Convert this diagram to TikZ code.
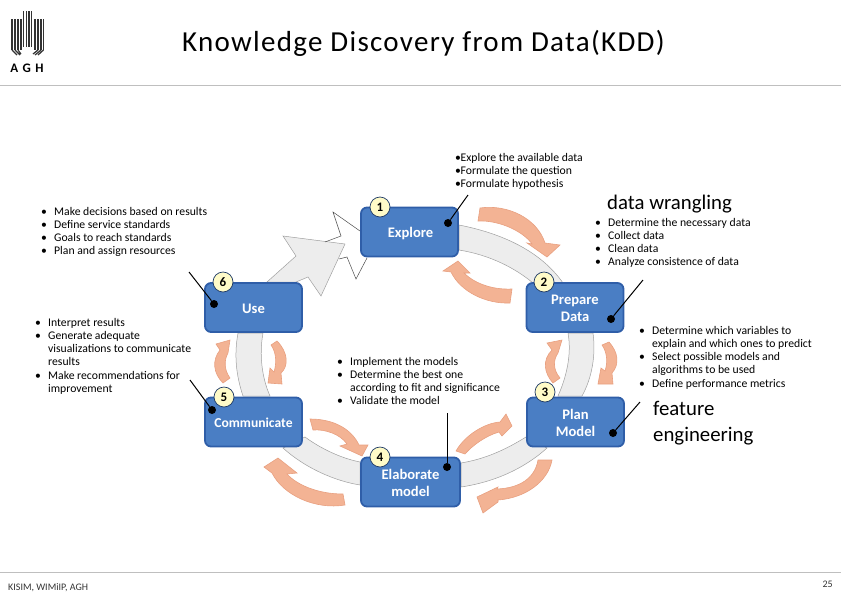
\documentclass[tikz,border=0pt]{standalone}
\usepackage{fontspec}
\setmainfont{Carlito}
\newfontfamily\titlefont[LetterSpace=4.5]{Carlito}
\tikzset{
 box/.style={draw=boxedge,line width=1.8pt,fill=boxfill,rounded corners=6pt,minimum width=97pt,minimum height=49pt,inner sep=0pt},
 boxlabel/.style={text=white,font=\fontsize{14.6}{17.5}\selectfont\bfseries,align=center,inner sep=0pt},
 badge/.style={circle,draw=boxedge!60!black,line width=.7pt,fill=badgefill,minimum size=20pt,inner sep=0pt,font=\fontsize{13}{13}\selectfont\bfseries},
 ring/.style={draw=gray!75,line width=.5pt,fill=ringfill},
 turn/.style={draw=turnedge,line width=.6pt,fill=turnfill},
 dot/.style={circle,fill=black,minimum size=8pt,inner sep=0pt},
 leader/.style={draw=black,line width=1pt},
 note/.style={anchor=north west,align=left,inner sep=0pt,font=\fontsize{11.7}{13.2}\selectfont},
 big/.style={anchor=west,inner sep=0pt,align=left,font=\fontsize{20.8}{26}\selectfont},
 smalltext/.style={inner sep=0pt,font=\fontsize{10}{11}\selectfont,text=black!80},
 rule/.style={gray!50,line width=.8pt},
 logobar/.style={black!80,line width=1.6pt},
}
\definecolor{boxfill}{HTML}{4A7EC4}
\definecolor{boxedge}{HTML}{2F5EA8}
\definecolor{badgefill}{HTML}{FFFBC8}
\definecolor{ringfill}{HTML}{EDEDED}
\definecolor{turnfill}{HTML}{F3B394}
\definecolor{turnedge}{HTML}{E8A080}
\begin{document}
\begin{tikzpicture}[x=1pt,y=-1pt]
\useasboundingbox (0,0) rectangle (841,595);
% header and footer
\node[anchor=west,inner sep=0pt,font=\fontsize{29}{32}\selectfont\titlefont] (title) at (182,43.5) {Knowledge Discovery from Data(KDD)};
\draw[rule] (0,85.5) -- (841,85.5);
\draw[rule] (0,572.5) -- (841,572.5);
\node[smalltext,anchor=west] (foot) at (8,588) {KISIM, WIMiIP, AGH};
\node[smalltext,anchor=east] (page) at (833,584) {25};
% logo
\foreach \x in {12,15,18,21,35,38,41,43.5}{\draw[logobar] (\x,19) -- (\x,50);}
\foreach \x in {23.5,26.5,29,31.5}{\draw[logobar] (\x,11) -- (\x,47);}
\draw[logobar,line width=1.2pt] (12,50) -- (17,55) (15,50) -- (20,55) (18,50) -- (21,54) (43.5,50) -- (38,55) (41,50) -- (35,55) (38,50) -- (33,54);
\node[inner sep=0pt,font=\fontsize{13}{13}\selectfont\bfseries] (agh) at (27,68) {A\kern4.5pt G\kern4.5pt H};
% ring
\path[ring] (459,225) .. controls (500,233) and (540,250) .. (563,283) -- (533,283) .. controls (515,268) and (490,255) .. (459,250) -- cycle;
\path[ring] (568,333) .. controls (572,355) and (566,378) .. (558,396) -- (582,396) .. controls (592,378) and (596,355) .. (593,333) -- cycle;
\path[ring] (526,437) .. controls (505,450) and (485,459) .. (461,463) -- (461,487) .. controls (495,482) and (525,468) .. (547,448) -- cycle;
\path[ring] (360,462) .. controls (340,458) and (320,448) .. (305,437) -- (283,448) .. controls (305,468) and (335,481) .. (360,485) -- cycle;
\path[ring] (243,396) .. controls (236,375) and (234,355) .. (238,333) -- (263,333) .. controls (259,355) and (262,378) .. (270,396) -- cycle;
\path[ring] (267,282) -- (296,256) -- (283,236) -- (345,244) -- (321,296) -- (308,277) -- (296,282) -- cycle;
% burst
\draw[black!70,line width=.5pt] (360,231) -- (333,212) -- (341,236) -- (325,242);
\draw[black!70,line width=.5pt] (367,258) -- (356,279) -- (347,257) -- (339,259);
% turning arrows
\path[turn] (480,208) .. controls (507,204) and (537,218) .. (545,243) -- (560,245) -- (547,257) -- (527,243) -- (532,244) .. controls (524,232) and (500,220) .. (478,221) -- cycle;
\path[turn] (443,271) -- (458,261) -- (470,273) -- (464,273) .. controls (473,282) and (490,290) .. (512,289) -- (510,303) .. controls (485,304) and (460,291) .. (451,272) -- cycle;
\path[turn] (602,345) -- (609,342) .. controls (618,352) and (620,364) .. (612,373) -- (613,384) -- (598,384) -- (601,368) -- (605,371) .. controls (608,362) and (607,352) .. (602,345) -- cycle;
\path[turn] (562,340) -- (547,343) -- (552,350) .. controls (542,360) and (544,373) .. (553,383) -- (560,378) .. controls (553,370) and (553,360) .. (558,353) -- cycle;
\path[turn] (456,451) .. controls (465,435) and (485,423) .. (500,422) -- (506,414) -- (512,426) -- (502,436) -- (499,432) .. controls (485,436) and (472,446) .. (465,454) -- cycle;
\path[turn] (538,460) -- (552,460) .. controls (548,482) and (525,498) .. (498,500) -- (498,502) -- (483,513) -- (477,497) -- (498,487) -- (497,489) .. controls (520,488) and (535,478) .. (538,460) -- cycle;
\path[turn] (310,419) .. controls (335,419) and (352,430) .. (359,445) -- (368,445) -- (362,456) -- (340,446) -- (347,444) .. controls (340,434) and (325,429) .. (313,430) -- cycle;
\path[turn] (264,467) -- (278,458) -- (297,473) -- (287,474) .. controls (297,485) and (318,494) .. (343,494) -- (345,505) .. controls (315,510) and (283,495) .. (272,473) -- cycle;
\path[turn] (230,340) -- (216,344) -- (220,350) .. controls (212,360) and (213,373) .. (223,383) -- (230,378) .. controls (224,370) and (224,360) .. (228,353) -- cycle;
\path[turn] (271,345) -- (277,341) .. controls (288,352) and (289,366) .. (281,373) -- (282,384) -- (268,383) -- (270,368) -- (274,372) .. controls (277,362) and (276,352) .. (271,345) -- cycle;
% boxes
\node[box] (explore) at (409.5,232) {};
\node[box] (use) at (253.5,307.5) {};
\node[box] (prepare) at (575,307.5) {};
\node[box] (plan) at (575.5,422) {};
\node[box] (communicate) at (253.5,422) {};
\node[box,minimum width=99pt] (elaborate) at (410.5,482) {};
\node[boxlabel] (l1) at (410.5,233.5) {Explore};
\node[boxlabel] (l6) at (253.5,308.5) {Use};
\node[boxlabel] (l2) at (575,308.5) {Prepare\\Data};
\node[boxlabel] (l3) at (575.5,423) {Plan\\Model};
\node[boxlabel,font=\fontsize{13.6}{16}\selectfont\bfseries] (l5) at (253.5,423) {Communicate};
\node[boxlabel] (l4) at (410.5,483) {Elaborate\\model};
% badges
\node[badge] (b1) at (380,207) {1};
\node[badge] (b6) at (223,282) {6};
\node[badge] (b2) at (544,282) {2};
\node[badge] (b3) at (545,392) {3};
\node[badge] (b4) at (380,457) {4};
\node[badge] (b5) at (224,397) {5};
% leaders
\node[dot] (d1) at (448,223) {};
\node[dot] (d6) at (214,304) {};
\node[dot] (d2) at (611,319) {};
\node[dot] (d3) at (613,433) {};
\node[dot] (d5) at (212,410) {};
\node[dot] (d4) at (447,467) {};
\coordinate (e1) at (468,195);
\coordinate (e6) at (189,272);
\coordinate (e2) at (643,280);
\coordinate (e3) at (640,402);
\coordinate (e5) at (190,380);
\coordinate (e4) at (447,413);
\draw[leader] (d1) -- (e1);
\draw[leader] (d6) -- (e6);
\draw[leader] (d2) -- (e2);
\draw[leader] (d3) -- (e3);
\draw[leader] (d5) -- (e5);
\draw[leader] (d4) -- (e4);
% notes
\node[note] (n1) at (455,153) {\hbox to 5.5pt{\textbullet\hss}Explore the available data\\\hbox to 5.5pt{\textbullet\hss}Formulate the question\\\hbox to 5.5pt{\textbullet\hss}Formulate hypothesis};
\node[note] (n6) at (41,207) {\hbox to 13pt{\textbullet\hss}Make decisions based on results\\\hbox to 13pt{\textbullet\hss}Define service standards\\\hbox to 13pt{\textbullet\hss}Goals to reach standards\\\hbox to 13pt{\textbullet\hss}Plan and assign resources};
\node[note] (n5) at (35,318) {\hbox to 13pt{\textbullet\hss}Interpret results\\\hbox to 13pt{\textbullet\hss}Generate adequate\\\hbox to 13pt{}visualizations to communicate\\\hbox to 13pt{}results\\\hbox to 13pt{\textbullet\hss}Make recommendations for\\\hbox to 13pt{}improvement};
\node[note] (n4) at (337,357) {\hbox to 13pt{\textbullet\hss}Implement the models\\\hbox to 13pt{\textbullet\hss}Determine the best one\\\hbox to 13pt{}according to fit and significance\\\hbox to 13pt{\textbullet\hss}Validate the model};
\node[note] (n2) at (595,218) {\hbox to 13pt{\textbullet\hss}Determine the necessary data\\\hbox to 13pt{\textbullet\hss}Collect data\\\hbox to 13pt{\textbullet\hss}Clean data\\\hbox to 13pt{\textbullet\hss}Analyze consistence of data};
\node[note] (n3) at (639,326) {\hbox to 13pt{\textbullet\hss}Determine which variables to\\\hbox to 13pt{}explain and which ones to predict\\\hbox to 13pt{\textbullet\hss}Select possible models and\\\hbox to 13pt{}algorithms to be used\\\hbox to 13pt{\textbullet\hss}Define performance metrics};
\node[big] (w) at (607,204) {data wrangling};
\node[big] (f) at (653,423) {feature\\engineering};
\end{tikzpicture}
\end{document}
